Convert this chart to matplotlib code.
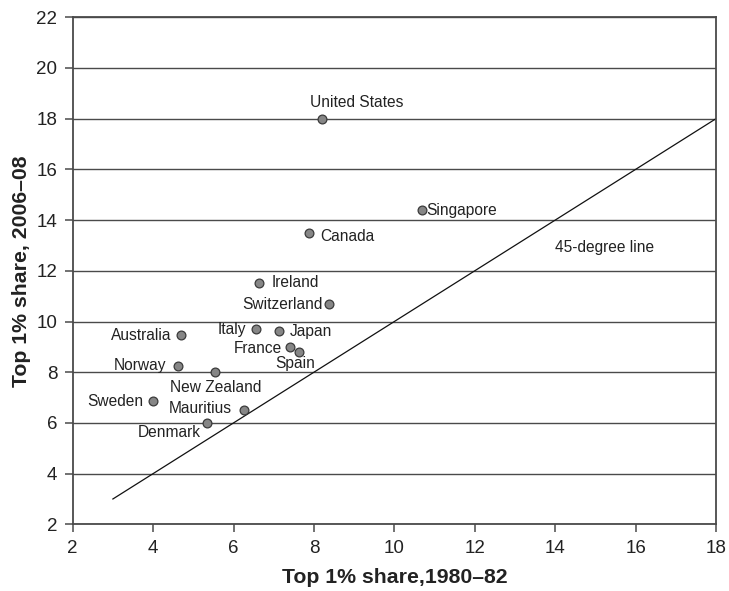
import matplotlib
matplotlib.use("Agg")
import matplotlib.pyplot as plt

plt.rcParams['font.family'] = ['Liberation Sans', 'DejaVu Sans']

countries = ["United States", "Singapore", "Canada", "Ireland", "Switzerland",
             "Australia", "Italy", "Japan", "France", "Spain", "Norway",
             "New Zealand", "Sweden", "Mauritius", "Denmark"]
share_1980_82 = [8.19, 10.68, 7.87, 6.63, 8.38, 4.69, 6.56, 7.13, 7.41, 7.63,
                 4.61, 5.55, 4.00, 6.27, 5.35]
share_2006_08 = [18.0, 14.39, 13.48, 11.53, 10.69, 9.45, 9.69, 9.61, 8.98, 8.78,
                 8.25, 8.00, 6.86, 6.50, 6.00]
diag_line = [3, 18]
x_ticks = list(range(2, 19, 2))
y_ticks = list(range(2, 23, 2))

# label placement: (dx, dy) offset in points, horizontal alignment
label_pos = {
    "United States": ((-8, 12), "left"),
    "Singapore": ((3, 0), "left"),
    "Canada": ((8, -2), "left"),
    "Ireland": ((9, 0), "left"),
    "Switzerland": ((-5, 0), "right"),
    "Australia": ((-7, 0), "right"),
    "Italy": ((-7, 0), "right"),
    "Japan": ((8, 0), "left"),
    "France": ((-6, -1), "right"),
    "Spain": ((-3, -8), "center"),
    "Norway": ((-8, 0), "right"),
    "New Zealand": ((0, -11), "center"),
    "Sweden": ((-7, 0), "right"),
    "Mauritius": ((-9, 1), "right"),
    "Denmark": ((-5, -7), "right"),
}

fig = plt.figure(figsize=(7.29, 5.91), dpi=100)
ax = fig.add_axes([0.0997, 0.1128, 0.8825, 0.858])

ax.set_xlim(2, 18)
ax.set_ylim(2, 22)
ax.set_xticks(x_ticks)
ax.set_yticks(y_ticks)

grid_color = "#4a4a4a"
ax.yaxis.grid(True, color=grid_color, linewidth=1.0)
ax.set_axisbelow(True)
for s in ax.spines.values():
    s.set_color(grid_color)
    s.set_linewidth(1.3)

ax.tick_params(axis="x", direction="out", length=6, width=1.1, color=grid_color,
               labelsize=13.5, labelcolor="#222222", pad=5)
ax.tick_params(axis="y", direction="out", length=6, width=1.1, color=grid_color,
               labelsize=13.5, labelcolor="#222222", pad=5)

ax.plot(diag_line, diag_line, color="#111111", linewidth=0.9, zorder=2)
ax.text(14.0, 12.9, "45-degree line", fontsize=11.2, color="#222222",
        ha="left", va="center")

ax.scatter(share_1980_82, share_2006_08, s=40, facecolor="#868686",
           edgecolor="#3a3a3a", linewidth=0.9, zorder=3)

for name, xv, yv in zip(countries, share_1980_82, share_2006_08):
    (dx, dy), ha = label_pos[name]
    ax.annotate(name, (xv, yv), xytext=(dx, dy), textcoords="offset points",
                ha=ha, va="center", fontsize=11.2, color="#222222", zorder=4)

ax.set_xlabel("Top 1% share,1980\u201382", fontsize=15.3, fontweight="bold",
              color="#222222", labelpad=8)
ax.set_ylabel("Top 1% share, 2006\u201308", fontsize=15.3, fontweight="bold",
              color="#222222", labelpad=4)

fig.savefig("out.png", dpi=100)
